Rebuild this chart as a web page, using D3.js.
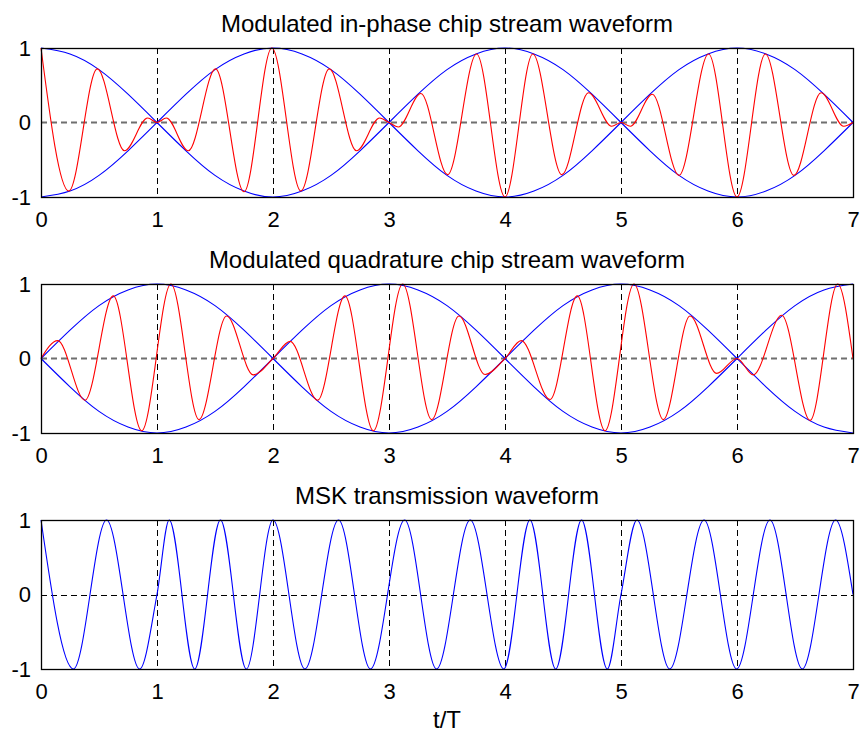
<!DOCTYPE html>
<html>
<head>
<meta charset="utf-8">
<script src="https://cdn.jsdelivr.net/npm/d3@7"></script>
<style>
  body { margin: 0; background: #fff; }
  text { font-family: "Liberation Sans", Arial, Helvetica, sans-serif; fill: #000; }
</style>
</head>
<body>
<svg id="chart" width="862" height="734"></svg>
<script>
// ---------- data ----------
const tTicks = [0, 1, 2, 3, 4, 5, 6, 7];
const yTicks = [-1, 0, 1];
const yTickLabels = ["-1", "0", "1"];
const panelTitles = [
  "Modulated in-phase chip stream waveform",
  "Modulated quadrature chip stream waveform",
  "MSK transmission waveform"
];
const xAxisLabel = "t/T";

// envelope sample times
const envT = [0, 0.25, 0.5, 0.75, 1, 1.25, 1.5, 1.75, 2, 2.25, 2.5, 2.75, 3, 3.25, 3.5, 3.75,
              4, 4.25, 4.5, 4.75, 5, 5.25, 5.5, 5.75, 6, 6.25, 6.5, 6.75, 7];
// in-phase envelopes (blue)
const iEnvA = [1, 0.92, 0.71, 0.38, 0, -0.38, -0.71, -0.92, -1, -0.92, -0.71, -0.38, 0, 0.38, 0.71, 0.92,
               1, 0.92, 0.71, 0.38, 0, -0.38, -0.71, -0.92, -1, -0.92, -0.71, -0.38, 0];
const iEnvB = [-1, -0.92, -0.71, -0.38, 0, 0.38, 0.71, 0.92, 1, 0.92, 0.71, 0.38, 0, -0.38, -0.71, -0.92,
               -1, -0.92, -0.71, -0.38, 0, 0.38, 0.71, 0.92, 1, 0.92, 0.71, 0.38, 0];
// quadrature envelopes (blue)
const qEnvA = [0, 0.38, 0.71, 0.92, 1, 0.92, 0.71, 0.38, 0, -0.38, -0.71, -0.92, -1, -0.92, -0.71, -0.38,
               0, 0.38, 0.71, 0.92, 1, 0.92, 0.71, 0.38, 0, -0.38, -0.71, -0.92, -1];
const qEnvB = [0, -0.38, -0.71, -0.92, -1, -0.92, -0.71, -0.38, 0, 0.38, 0.71, 0.92, 1, 0.92, 0.71, 0.38,
               0, -0.38, -0.71, -0.92, -1, -0.92, -0.71, -0.38, 0, 0.38, 0.71, 0.92, 1];

// in-phase chip waveform (red): turning points and zero touches
const iChipT = [0, 0.24, 0.485, 0.72, 0.92, 1.0, 1.08, 1.27, 1.505, 1.75, 1.99, 2.24, 2.485, 2.72, 2.92, 3.0,
                3.08, 3.275, 3.505, 3.755, 4.0, 4.24, 4.49, 4.72, 4.92, 5.0, 5.08, 5.27, 5.5, 5.755, 6.0,
                6.245, 6.49, 6.725, 6.92, 7.0];
const iChipY = [1, -0.92, 0.72, -0.38, 0.06, 0, 0.06, -0.38, 0.72, -0.93, 1, -0.92, 0.72, -0.38, 0.06, 0,
                -0.06, 0.39, -0.7, 0.92, -1, 0.92, -0.7, 0.4, -0.05, 0, -0.05, 0.38, -0.71, 0.92, -1,
                0.92, -0.71, 0.4, -0.05, 0];

// quadrature chip waveform (red)
const qChipT = [0, 0.144, 0.379, 0.623, 0.868, 1.12, 1.362, 1.6, 1.83, 2.0, 2.147, 2.385, 2.62, 2.865,
                3.118, 3.368, 3.603, 3.828, 4.0, 4.14, 4.388, 4.623, 4.862, 5.112, 5.365, 5.595, 5.825,
                6.0, 6.14, 6.385, 6.63, 6.868, 7.0];
const qChipY = [0, 0.24, -0.56, 0.84, -0.97, 1.0, -0.82, 0.57, -0.22, 0, 0.23, -0.56, 0.84, -0.97,
                1.0, -0.82, 0.57, -0.215, 0, 0.24, -0.55, 0.84, -0.97, 1.0, -0.82, 0.57, -0.2,
                0, -0.22, 0.58, -0.83, 1.0, 0];

// MSK transmission waveform (blue)
const mskT = [0, 0.28, 0.565, 0.85, 1.0, 1.105, 1.325, 1.547, 1.77, 2.0, 2.275, 2.565, 2.84, 3.135,
              3.41, 3.7, 3.99, 4.215, 4.437, 4.66, 4.882, 5.0, 5.137, 5.42, 5.716, 5.997, 6.284, 6.563,
              6.85, 7.0];
const mskY = [1, -1, 1, -1, 0, 1, -1, 1, -1, 1, -1, 1, -1, 1,
              -1, 1, -1, 1, -1, 1, -1, 0, 1, -1, 1, -1, 1, -1,
              1, 0];

// ---------- drawing ----------
const svg = d3.select("#chart");
const W = 862, H = 734;
svg.append("rect").attr("width", W).attr("height", H).attr("fill", "#fff");

const x = d3.scaleLinear().domain([0, 7]).range([41, 853]);
const panelTops = [48, 284, 520];
const panelH = 149;

const panels = [
  { series: [
      { t: envT, v: iEnvA, color: "#0000ff", curve: d3.curveNatural },
      { t: envT, v: iEnvB, color: "#0000ff", curve: d3.curveNatural },
      { t: iChipT, v: iChipY, color: "#ff0000", curve: d3.curveMonotoneX }
    ], zeroStyle: "gray" },
  { series: [
      { t: envT, v: qEnvA, color: "#0000ff", curve: d3.curveNatural },
      { t: envT, v: qEnvB, color: "#0000ff", curve: d3.curveNatural },
      { t: qChipT, v: qChipY, color: "#ff0000", curve: d3.curveMonotoneX }
    ], zeroStyle: "gray" },
  { series: [
      { t: mskT, v: mskY, color: "#0000ff", curve: d3.curveMonotoneX }
    ], zeroStyle: "black" }
];

panels.forEach((p, i) => {
  const top = panelTops[i];
  const y = d3.scaleLinear().domain([-1, 1]).range([top + panelH, top]);
  const g = svg.append("g");

  // vertical dashed grid lines
  g.selectAll(".vgrid").data(tTicks.filter(t => t > 0 && t < 7)).join("line")
    .attr("x1", d => Math.round(x(d)) + 0.5).attr("x2", d => Math.round(x(d)) + 0.5)
    .attr("y1", top).attr("y2", top + panelH)
    .attr("stroke", "#000").attr("stroke-width", 1).attr("stroke-dasharray", "6,4");

  // horizontal zero grid line
  const zl = g.append("line")
    .attr("x1", x(0)).attr("x2", x(7))
    .attr("stroke-dasharray", "6,4");
  if (p.zeroStyle === "gray") {
    zl.attr("y1", y(0)).attr("y2", y(0)).attr("stroke", "#6f6f6f").attr("stroke-width", 2);
  } else {
    zl.attr("y1", Math.round(y(0)) + 0.5).attr("y2", Math.round(y(0)) + 0.5)
      .attr("stroke", "#000").attr("stroke-width", 1);
  }

  // data lines
  p.series.forEach(s => {
    const line = d3.line().x(d => x(d[0])).y(d => y(d[1])).curve(s.curve);
    g.append("path").datum(d3.zip(s.t, s.v))
      .attr("d", line).attr("fill", "none")
      .attr("stroke", s.color).attr("stroke-width", 1.1);
  });

  // box
  g.append("rect").attr("x", x(0) + 0.5).attr("y", top + 0.5)
    .attr("width", x(7) - x(0)).attr("height", panelH)
    .attr("fill", "none").attr("stroke", "#000").attr("stroke-width", 1.3);

  // axes (labels only)
  const xAxis = d3.axisBottom(x).tickValues(tTicks).tickFormat(d3.format("d"))
    .tickSizeInner(0).tickSizeOuter(0).tickPadding(14);
  const ga = g.append("g").attr("transform", `translate(0,${top + panelH})`).call(xAxis);
  ga.select(".domain").remove();
  ga.selectAll("text").attr("font-size", 22)
    .attr("font-family", "Liberation Sans, Arial, Helvetica, sans-serif");

  const yAxis = d3.axisLeft(y).tickValues(yTicks).tickFormat((d, k) => yTickLabels[k])
    .tickSizeInner(0).tickSizeOuter(0).tickPadding(10);
  const gy = g.append("g").attr("transform", `translate(${x(0)},0)`).call(yAxis);
  gy.select(".domain").remove();
  gy.selectAll("text").attr("font-size", 22)
    .attr("font-family", "Liberation Sans, Arial, Helvetica, sans-serif");

  // title
  g.append("text").attr("x", (x(0) + x(7)) / 2).attr("y", top - 16)
    .attr("text-anchor", "middle").attr("font-size", 24)
    .text(panelTitles[i]);
});

// x label
svg.append("text").attr("x", (x(0) + x(7)) / 2).attr("y", 728)
  .attr("text-anchor", "middle").attr("font-size", 24)
  .text(xAxisLabel);
</script>
</body>
</html>
